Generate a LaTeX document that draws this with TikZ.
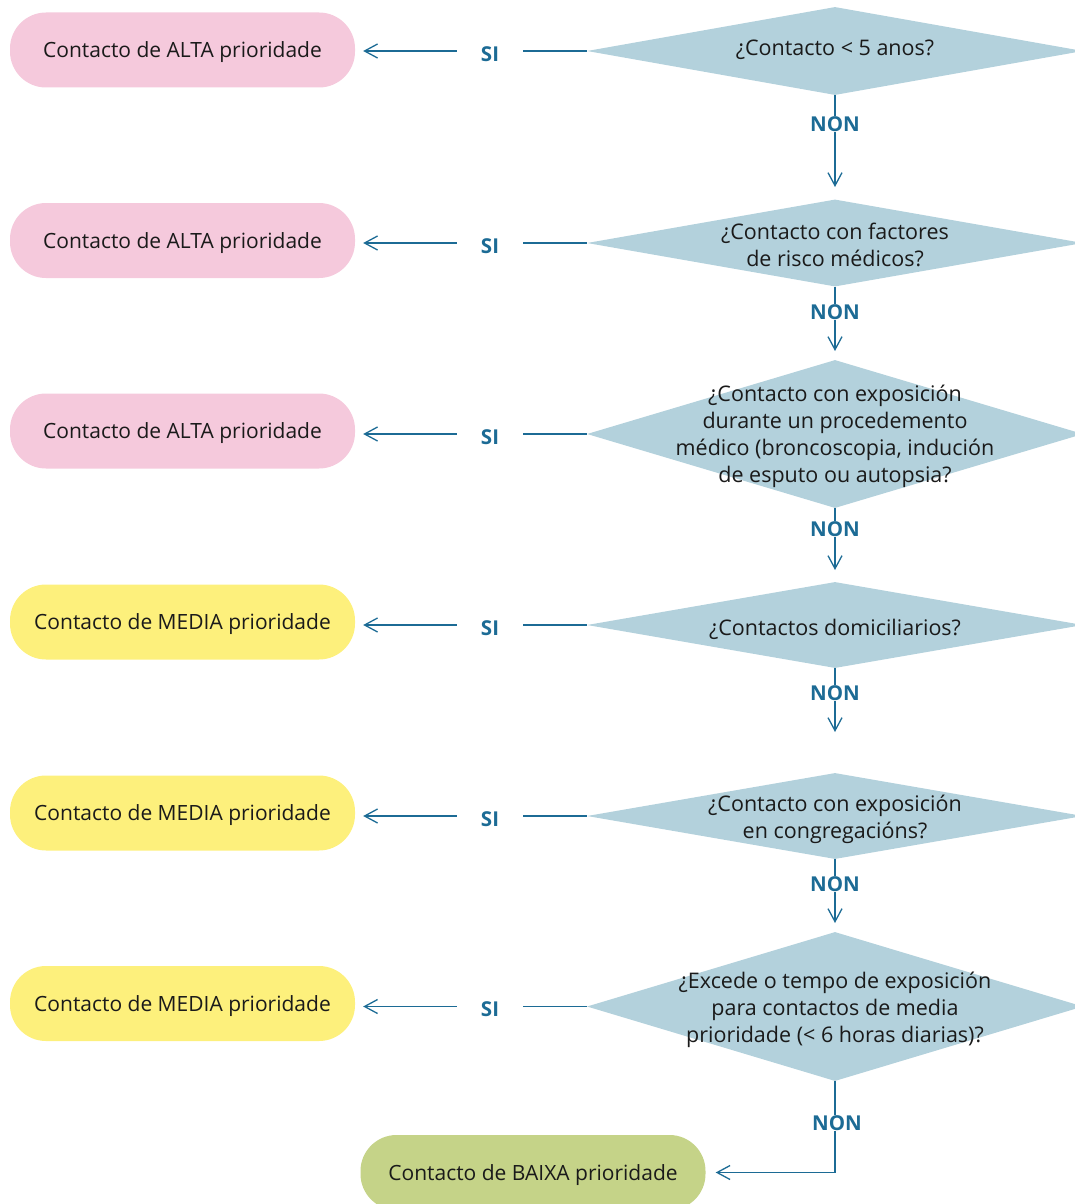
\documentclass[tikz,border=0pt]{standalone}
\usepackage{fontspec}
\setmainfont{Open Sans}
\usetikzlibrary{shapes.geometric,arrows.meta}
\definecolor{pinkbox}{HTML}{F5C9DC}
\definecolor{yellowbox}{HTML}{FDF07C}
\definecolor{greenbox}{HTML}{C5D388}
\definecolor{diablue}{HTML}{B3D1DC}
\definecolor{lineblue}{HTML}{1C6B95}
\definecolor{txt}{HTML}{1A1A1A}
\begin{document}
\begin{tikzpicture}[x=1pt,y=-1pt,
  box/.style={rounded corners=36pt, minimum width=345pt, minimum height=75pt, inner sep=0pt,
    text height=18pt, text depth=3pt,
    font=\fontsize{21}{25}\selectfont, text=txt},
  dia/.style={diamond, fill=diablue, minimum width=496pt, inner sep=0pt},
  qtext/.style={align=center, font=\fontsize{21.5}{27}\selectfont, text=txt, inner sep=0pt},
  lbl/.style={font=\bfseries\fontsize{20.5}{22}\selectfont, text=lineblue, inner sep=0pt},
  conn/.style={draw=lineblue, line width=1.3pt, -{Straight Barb[length=13pt,width=14pt,line width=1.3pt]}}
]
\useasboundingbox (0,0) rectangle (1075,1204);
\clip (0,0) rectangle (1075,1204);

% left boxes
\node[box, fill=pinkbox]   (b1) at (182.5,50)    {Contacto de ALTA prioridade};
\node[box, fill=pinkbox]   (b2) at (182.5,240.5) {Contacto de ALTA prioridade};
\node[box, fill=pinkbox]   (b3) at (182.5,431)   {Contacto de ALTA prioridade};
\node[box, fill=yellowbox] (b4) at (182.5,622)   {Contacto de MEDIA prioridade};
\node[box, fill=yellowbox] (b5) at (182.5,813)   {Contacto de MEDIA prioridade};
\node[box, fill=yellowbox] (b6) at (182.5,1003.5){Contacto de MEDIA prioridade};
\node[box, fill=greenbox]  (b7) at (533,1172.5)  {Contacto de BAIXA prioridade};

% diamonds
\node[dia, minimum height=88pt]  (d1) at (835,51)     {};
\node[dia, minimum height=87pt]  (d2) at (835,243)    {};
\node[dia, minimum height=148pt] (d3) at (835,434)    {};
\node[dia, minimum height=86pt]  (d4) at (835,625)    {};
\node[dia, minimum height=86pt]  (d5) at (835,816)    {};
\node[dia, minimum height=149pt] (d6) at (835,1006.5) {};

% diamond texts
\node[qtext] (q1) at (835,50)   {¿Contacto < 5 anos?};
\node[qtext] (q2) at (835,245)  {¿Contacto con factores\\de risco médicos?};
\node[qtext] (q3) at (835,436)  {¿Contacto con exposición\\durante un procedemento\\médico (broncoscopia, indución\\de esputo ou autopsia?};
\node[qtext] (q4) at (835,629)  {¿Contactos domiciliarios?};
\node[qtext] (q5) at (835,819)  {¿Contacto con exposición\\en congregacións?};
\node[qtext] (q6) at (835,1010) {¿Excede o tempo de exposición\\para contactos de media\\prioridade (< 6 horas diarias)?};

% SI connectors
\foreach \i in {1,...,6}{
  \draw[conn, shorten >=8pt] (d\i.west) -- node[pos=0.418, lbl, fill=white, inner xsep=24pt, inner ysep=4pt, yshift=-3pt] {SI} (b\i.east |- d\i.west);
}

% free ends of the NON arrows
\coordinate (t1) at (835,187);
\coordinate (t2) at (835,351);
\coordinate (t3) at (835,570);
\coordinate (t4) at (835,732);
\coordinate (t5) at (835,923);

% NON connectors
\foreach \i in {1,...,5}{
  \draw[conn] (d\i.south) -- (t\i);
}
\draw[conn, shorten >=10pt] (d6.south) |- (b7.east);

% NON labels
\node[lbl, fill=white] (n1) at (835,124)  {NON};
\node[lbl, fill=white] (n2) at (835,312)  {NON};
\node[lbl, fill=white] (n3) at (835,529)  {NON};
\node[lbl, fill=white] (n4) at (835,693)  {NON};
\node[lbl, fill=white] (n5) at (835,884)  {NON};
\node[lbl, fill=white] (n6) at (837,1123) {NON};
\end{tikzpicture}
\end{document}
